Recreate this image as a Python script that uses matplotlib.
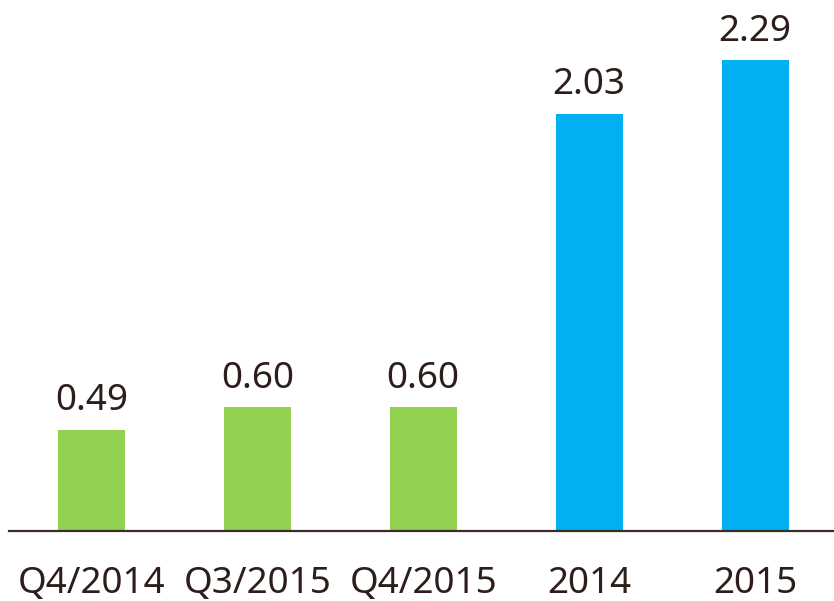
import matplotlib
matplotlib.use("Agg")
import matplotlib.pyplot as plt

categories = ["Q4/2014", "Q3/2015", "Q4/2015", "2014", "2015"]
values = [0.49, 0.60, 0.60, 2.03, 2.29]
labels = ["0.49", "0.60", "0.60", "2.03", "2.29"]
colors = ["#92D050", "#92D050", "#92D050", "#00B0F0", "#00B0F0"]

text_color = "#2E1E1B"
plt.rcParams['font.family'] = ['Noto Sans', 'DejaVu Sans']

fig = plt.figure(figsize=(8.34, 6.01), dpi=100)
bottom = 1 - 530.5 / 601
height = 2.5 * 205.4 / 601
ax = fig.add_axes([9 / 834, bottom, 824 / 834, height])

x = list(range(len(categories)))
ax.bar(x, values, width=0.404, color=colors)
for xi, v, lab in zip(x, values, labels):
    ax.annotate(lab, (xi, v), xytext=(0, 7.5), textcoords="offset points",
                ha="center", va="bottom", fontsize=26.5, color=text_color)

ax.set_xlim(-0.497, 4.47)
ax.set_ylim(0, 2.5)
ax.set_xticks(x)
ax.set_xticklabels(categories, fontsize=26.5, color=text_color)
ax.tick_params(axis="x", length=0, pad=25.5)
ax.set_yticks([])
for s in ["top", "right", "left"]:
    ax.spines[s].set_visible(False)
ax.spines["bottom"].set_color("#3B2C27")
ax.spines["bottom"].set_linewidth(1.6)

fig.savefig("out.png", dpi=100)
